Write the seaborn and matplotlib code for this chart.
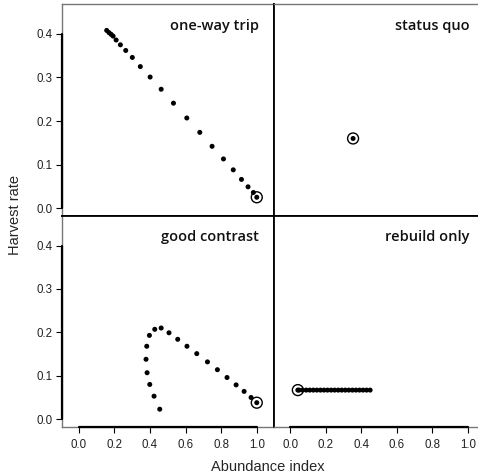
import matplotlib
matplotlib.use("Agg")
import matplotlib.pyplot as plt
import seaborn as sns
import pandas as pd

sns.set_style("white")
plt.rcParams['font.family'] = ['Liberation Sans', 'DejaVu Sans']

# --- data ---
panel_names = ["one-way trip", "status quo", "good contrast", "rebuild only"]

oneway_x = [0.157, 0.170, 0.182, 0.193, 0.210, 0.234, 0.264, 0.301, 0.346, 0.401,
            0.463, 0.532, 0.607, 0.680, 0.749, 0.813, 0.868, 0.914, 0.951, 0.981, 1.0]
oneway_y = [0.408, 0.403, 0.399, 0.395, 0.386, 0.375, 0.362, 0.346, 0.325, 0.301,
            0.273, 0.241, 0.207, 0.174, 0.142, 0.113, 0.088, 0.066, 0.049, 0.036, 0.025]

status_x = [0.354]
status_y = [0.160]

good_x = [0.455, 0.423, 0.399, 0.384, 0.378, 0.382, 0.397, 0.427, 0.463, 0.507,
          0.556, 0.608, 0.663, 0.723, 0.779, 0.833, 0.884, 0.929, 0.968, 1.0]
good_y = [0.023, 0.053, 0.080, 0.107, 0.138, 0.168, 0.193, 0.207, 0.210, 0.199,
          0.184, 0.168, 0.151, 0.132, 0.114, 0.096, 0.079, 0.064, 0.050, 0.038]

rebuild_x = [0.45, 0.43, 0.41, 0.39, 0.37, 0.35, 0.33, 0.31, 0.29, 0.27, 0.25,
             0.23, 0.21, 0.19, 0.17, 0.15, 0.13, 0.11, 0.09, 0.07, 0.05, 0.043]
rebuild_y = [0.067] * len(rebuild_x)

x_ticks = [0.0, 0.2, 0.4, 0.6, 0.8, 1.0]
x_ticklabels = ["0.0", "0.2", "0.4", "0.6", "0.8", "1.0"]
y_ticks = [0.0, 0.1, 0.2, 0.3, 0.4]
y_ticklabels = ["0.0", "0.1", "0.2", "0.3", "0.4"]

series = [(oneway_x, oneway_y), (status_x, status_y), (good_x, good_y), (rebuild_x, rebuild_y)]
# final (circled) point index for each panel
final_idx = [-1, -1, -1, -1]

W, H = 478, 476
fig = plt.figure(figsize=(W / 100, H / 100), dpi=100)

left0, mid_x, right1 = 62, 273.5, 484.5
top0, mid_y, bot1 = 4.3, 216, 427

boxes = [
    (left0, top0, mid_x, mid_y),
    (mid_x, top0, right1, mid_y),
    (left0, mid_y, mid_x, bot1),
    (mid_x, mid_y, right1, bot1),
]

xlim = (-0.094, 1.094)
ylim = (-0.018, 0.468)
gray = "#777777"

for i, (name, (xs, ys), (l, t, r, b)) in enumerate(zip(panel_names, series, boxes)):
    ax = fig.add_axes([l / W, 1 - b / H, (r - l) / W, (b - t) / H])
    df = pd.DataFrame({"x": xs, "y": ys})
    sns.scatterplot(data=df, x="x", y="y", ax=ax, color="black", s=13,
                    edgecolor="none", linewidth=0, zorder=3)
    fin = df.iloc[[final_idx[i]]]
    sns.scatterplot(data=fin, x="x", y="y", ax=ax, s=62, facecolor="none",
                    edgecolor="black", linewidth=1.0, zorder=4)
    ax.set_xlim(*xlim)
    ax.set_ylim(*ylim)
    ax.set_xlabel("")
    ax.set_ylabel("")
    col = i % 2
    row = i // 2
    # spines: outer gray, inner black
    for side in ["left", "right", "top", "bottom"]:
        ax.spines[side].set_visible(True)
        ax.spines[side].set_linewidth(1.0)
        ax.spines[side].set_color(gray)
    if col == 0:
        ax.spines["right"].set_color("black")
        ax.spines["right"].set_linewidth(1.3)
    else:
        ax.spines["left"].set_color("black")
        ax.spines["left"].set_linewidth(1.3)
    if row == 0:
        ax.spines["bottom"].set_color("black")
        ax.spines["bottom"].set_linewidth(1.3)
    else:
        ax.spines["top"].set_color("black")
        ax.spines["top"].set_linewidth(1.3)

    ax.tick_params(direction="out", length=4, width=0.8, color="black",
                   labelsize=8.3, labelcolor="#222222", pad=3)
    if row == 1:
        ax.set_xticks(x_ticks)
        ax.set_xticklabels(x_ticklabels)
        ax.plot([x_ticks[0], x_ticks[-1]], [0, 0], transform=ax.get_xaxis_transform(),
                color="black", lw=1.6, clip_on=False, zorder=5)
        ax.tick_params(axis="x", bottom=True, pad=5)
    else:
        ax.set_xticks([])
    if col == 0:
        ax.set_yticks(y_ticks)
        ax.set_yticklabels(y_ticklabels)
        ax.plot([0, 0], [y_ticks[0], y_ticks[-1]], transform=ax.get_yaxis_transform(),
                color="black", lw=1.6, clip_on=False, zorder=5)
        ax.tick_params(axis="y", left=True)
    else:
        ax.set_yticks([])

    ax.text(1 - 15 / (r - l), 1 - 14.5 / (b - t), name, transform=ax.transAxes,
            ha="right", va="top", fontsize=10.5, family=["Open Sans", "DejaVu Sans"],
            fontweight="semibold", color="#111111")

fig.text(268 / W, 1 - 467 / H, "Abundance index", ha="center", va="center", fontsize=10.5)
fig.text(15 / W, 1 - 215 / H, "Harvest rate", ha="center", va="center", fontsize=10.5,
         rotation=90)

fig.savefig("out.png", dpi=100)
